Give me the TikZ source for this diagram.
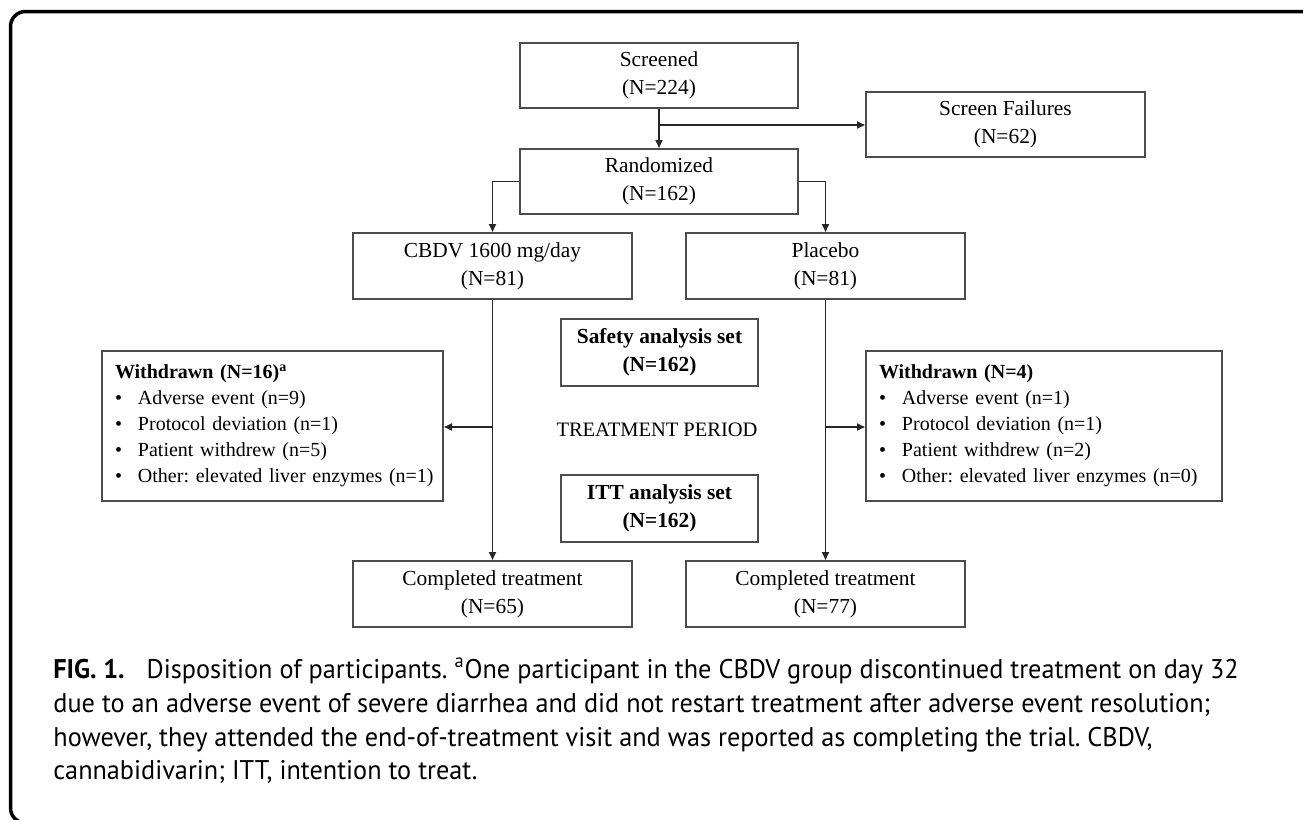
\documentclass[tikz,border=0pt]{standalone}
\usepackage{fontspec}
\setmainfont{Liberation Serif}
\newfontfamily\capfont[FakeStretch=0.972]{PT Sans}
\usetikzlibrary{arrows.meta}
\newcommand{\blt}{\hspace*{6.5pt}\makebox[11.5pt][l]{•}}
\newcommand{\indt}{\hspace*{6.5pt}}
\frenchspacing
\begin{document}
\begin{tikzpicture}[x=0.5pt,y=-0.5pt,
  box/.style={draw=black!70, line width=1pt, inner sep=0pt, align=center,
    minimum width=139.5pt, minimum height=33pt, font=\fontsize{10.7}{14}\selectfont},
  setbox/.style={box, minimum width=98.5pt, minimum height=33.5pt, font=\bfseries\fontsize{10.7}{14}\selectfont},
  wbox/.style={draw=black!70, line width=1pt, inner xsep=0pt, inner ysep=0pt, align=left,
    minimum height=75pt, font=\frenchspacing\fontsize{10}{13}\selectfont},
  conn/.style={line width=0.9pt, black!85},
  arr/.style={conn, -{Triangle[length=4pt,width=3.5pt]}},
  captxt/.style={anchor=base west, inner sep=0pt, font=\capfont\fontsize{13.5}{16}\selectfont}]
\useasboundingbox (0,0) rectangle (1303,820);
\draw[line width=1.75pt, rounded corners=7.5pt] (1310,11.5) -- (10.5,11.5) -- (10.5,823) -- (40,823);

\node[box, minimum width=139pt, minimum height=32.5pt] (scr) at (659,75) {Screened\\(N=224)};
\node[box, minimum height=32.5pt] (fail) at (1005.5,124.5) {Screen Failures\\(N=62)};
\node[box, minimum width=139pt, minimum height=32.5pt] (rand) at (659,181.5) {Randomized\\(N=162)};
\node[box] (cbdv) at (492.5,266) {CBDV 1600 mg/day\\(N=81)};
\node[box] (plac) at (825.5,266) {Placebo\\(N=81)};
\node[setbox] (safe) at (659.5,352.5) {Safety analysis set\\(N=162)};
\node[setbox] (itt) at (659.5,508) {ITT analysis set\\(N=162)};
\node[inner sep=0pt, font=\fontsize{10.25}{13}\selectfont] (treat) at (657,430) {TREATMENT PERIOD};
\node[wbox, text width=170.5pt] (wl) at (272.5,426) {\indt\textbf{Withdrawn (N=16)\textsuperscript{a}}\\
\blt Adverse event (n=9)\\
\blt Protocol deviation (n=1)\\
\blt Patient withdrew (n=5)\\
\blt Other: elevated liver enzymes (n=1)};
\node[wbox, text width=178pt] (wr) at (1044,426) {\indt\textbf{Withdrawn (N=4)}\\
\blt Adverse event (n=1)\\
\blt Protocol deviation (n=1)\\
\blt Patient withdrew (n=2)\\
\blt Other: elevated liver enzymes (n=0)};
\node[box] (cl) at (492.5,594) {Completed treatment\\(N=65)};
\node[box] (cr) at (825.5,594) {Completed treatment\\(N=77)};

\draw[arr] (scr) -- (rand);
\coordinate (br) at (659,125);
\draw[arr] (br) -- (br -| fail.west);
\draw[arr] (rand.west) -| (cbdv.north);
\draw[arr] (rand.east) -| (plac.north);
\draw[arr] (cbdv.south) -- (cl.north);
\draw[arr] (plac.south) -- (cr.north);
\coordinate (jl) at (492.5,427);
\coordinate (jr) at (825.5,427);
\draw[arr] (jl) -- (jl -| wl.east);
\draw[arr] (jr) -- (jr -| wr.west);

\node[captxt] (c1) at (53,678) {\textbf{FIG. 1.}\hspace{11pt}Disposition of participants. \textsuperscript{a}One participant in the CBDV group discontinued treatment on day 32};
\node[captxt] (c2) at (53,712) {due to an adverse event of severe diarrhea and did not restart treatment after adverse event resolution;};
\node[captxt] (c3) at (53,746) {however, they attended the end-of-treatment visit and was reported as completing the trial. CBDV,};
\node[captxt] (c4) at (53,779) {cannabidivarin; ITT, intention to treat.};
\end{tikzpicture}
\end{document}
